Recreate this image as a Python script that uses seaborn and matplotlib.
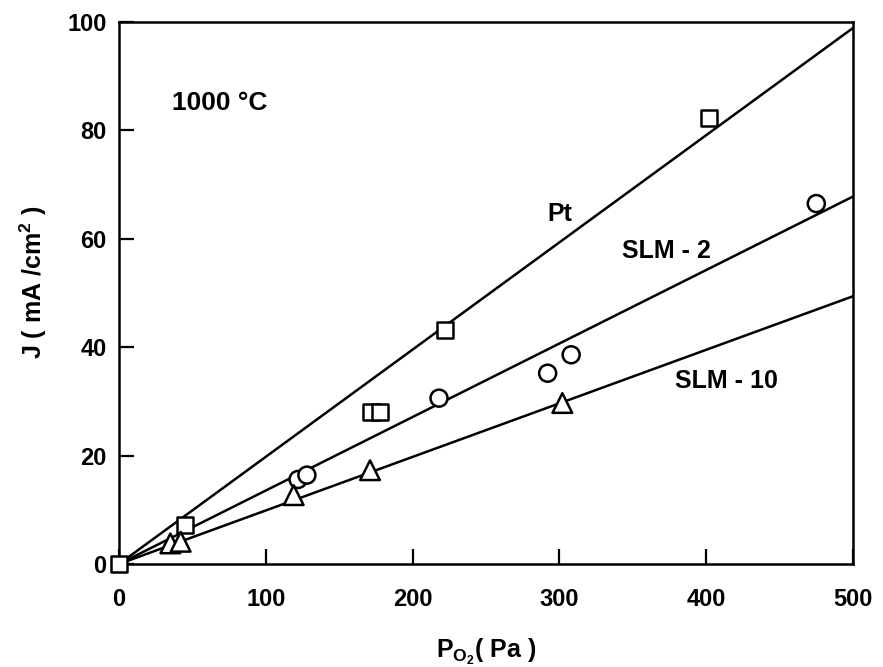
import matplotlib
matplotlib.use("Agg")
import matplotlib.pyplot as plt
import seaborn as sns
import pandas as pd

# ---- data ----
pt_x = [0, 45, 172, 178, 222, 402]
pt_y = [0, 7.2, 28.0, 28.0, 43.2, 82.3]
slm2_x = [122, 128, 218, 292, 308, 475]
slm2_y = [15.6, 16.4, 30.6, 35.2, 38.6, 66.5]
slm10_x = [35, 42, 119, 171, 302]
slm10_y = [3.8, 4.1, 12.7, 17.3, 29.7]

fit_x = [0, 500]
pt_fit = [0, 98.9]
slm2_fit = [0, 67.8]
slm10_fit = [0, 49.4]

x_ticks = [0, 100, 200, 300, 400, 500]
y_ticks = [0, 20, 40, 60, 80, 100]

sns.set_style("ticks")
plt.rcParams['font.family'] = ['Liberation Sans', 'DejaVu Sans']
plt.rcParams['font.weight'] = 'bold'
plt.rcParams['text.color'] = 'black'
plt.rcParams['axes.labelcolor'] = 'black'
plt.rcParams['xtick.color'] = 'black'
plt.rcParams['ytick.color'] = 'black'
plt.rcParams['mathtext.fontset'] = 'custom'
plt.rcParams['mathtext.rm'] = 'Liberation Sans:bold'
plt.rcParams['mathtext.it'] = 'Liberation Sans:bold'
plt.rcParams['mathtext.bf'] = 'Liberation Sans:bold'

fig = plt.figure(figsize=(8.83, 6.67), dpi=100)
ax = fig.add_axes([119/883, 1-564/667, (853-119)/883, (564-22)/667])

pts = pd.DataFrame({
    "x": pt_x + slm2_x + slm10_x,
    "y": pt_y + slm2_y + slm10_y,
    "s": ["Pt"]*len(pt_x) + ["SLM-2"]*len(slm2_x) + ["SLM-10"]*len(slm10_x),
})
fits = pd.DataFrame({
    "x": fit_x*3,
    "y": pt_fit + slm2_fit + slm10_fit,
    "s": ["Pt"]*2 + ["SLM-2"]*2 + ["SLM-10"]*2,
})

sns.lineplot(data=fits, x="x", y="y", units="s", estimator=None,
             color="black", linewidth=1.8, ax=ax, legend=False, zorder=2)
sns.scatterplot(data=pts, x="x", y="y", style="s", size="s",
                markers={"Pt": "s", "SLM-2": "o", "SLM-10": "^"},
                sizes={"Pt": 135, "SLM-2": 150, "SLM-10": 200},
                facecolor="white", edgecolor="black",
                linewidth=1.8, ax=ax, legend=False, zorder=3, clip_on=False)

ax.set_xlim(0, 500)
ax.set_ylim(0, 100)
ax.set_xticks(x_ticks)
ax.set_yticks(y_ticks)
ax.set_xticklabels([str(v) for v in x_ticks], fontsize=17, fontweight='bold')
ax.set_yticklabels([str(v) for v in y_ticks], fontsize=17, fontweight='bold')
ax.tick_params(axis='both', direction='in', length=11, width=1.6,
               top=False, right=False)
ax.tick_params(axis='x', pad=17)
ax.tick_params(axis='y', pad=9)
for sp in ax.spines.values():
    sp.set_visible(True)
    sp.set_linewidth(1.8)
    sp.set_color("black")

ax.set_xlabel(r"P$_{\mathregular{O_2}}$( Pa )", fontsize=18, fontweight='bold')
ax.set_ylabel(r"J ( mA /cm$^{\mathregular{2}}$ )", fontsize=18, fontweight='bold')
ax.xaxis.set_label_coords(0.5, -0.135)
ax.yaxis.set_label_coords(-0.095, 0.52)

ax.text(36, 85, "1000 °C", fontsize=19, fontweight='bold', va='center', ha='left')
ax.text(300, 64.6, "Pt", fontsize=18, fontweight='bold', va='center', ha='center')
ax.text(372.7, 57.7, "SLM - 2", fontsize=18, fontweight='bold', va='center', ha='center')
ax.text(413.8, 33.8, "SLM - 10", fontsize=18, fontweight='bold', va='center', ha='center')

fig.savefig("out.png", dpi=100)
